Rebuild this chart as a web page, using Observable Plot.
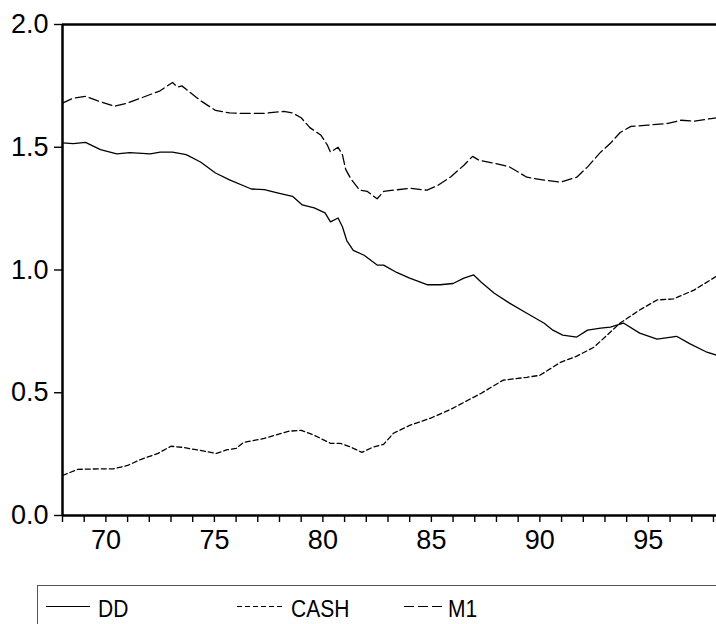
<!DOCTYPE html>
<html>
<head>
<meta charset="utf-8">
<script src="https://cdn.jsdelivr.net/npm/d3@7"></script>
<script src="https://cdn.jsdelivr.net/npm/@observablehq/plot@0.6"></script>
<style>
  html, body { margin: 0; padding: 0; background: #fff; }
  body { width: 716px; height: 624px; overflow: hidden; position: relative; font-family: "Liberation Sans", Arial, sans-serif; }
  #chart { position: absolute; left: 0; top: 0; }
  #chart svg text { font-family: "Liberation Sans", Arial, sans-serif; }
  #legend { position: absolute; left: 37px; top: 585px; width: 700px; height: 60px; border: 1px solid #555; box-sizing: border-box; }
  .item { position: absolute; top: 0; height: 40px; }
  .item svg { position: absolute; top: 0; left: 0; }
  .item span { position: absolute; top: 9px; font-size: 21px; color: #000; white-space: nowrap; transform: scaleY(1.15); transform-origin: left top; }
</style>
</head>
<body>
<div id="chart"></div>
<div id="legend"></div>
<script>
// ---- Data ----
const seriesNames = ["DD", "CASH", "M1"];

const m1Years = [68.0,68.5,69.06,69.6,70.4,71.0,71.6,72.5,73.07,73.3,73.5,74.36,75.05,75.7,76.2,77.3,78.2,78.6,79.0,79.4,79.9,80.2,80.35,80.7,80.9,81.05,81.3,81.7,82.05,82.5,82.8,83.25,84.0,84.8,85.3,85.9,86.5,86.9,87.2,87.9,88.6,89.4,90.2,90.95,91.7,92.2,92.8,93.25,93.7,94.2,94.96,95.9,96.5,97.1,97.9,98.14];
const m1Values = [1.68,1.70,1.707,1.69,1.667,1.68,1.70,1.73,1.764,1.745,1.75,1.69,1.65,1.64,1.638,1.638,1.646,1.64,1.62,1.58,1.55,1.51,1.48,1.50,1.47,1.41,1.37,1.325,1.32,1.29,1.32,1.325,1.333,1.325,1.345,1.38,1.427,1.463,1.447,1.435,1.42,1.378,1.366,1.358,1.378,1.42,1.48,1.516,1.56,1.585,1.59,1.597,1.61,1.606,1.617,1.62];

const ddYears = [68.0,68.5,69.06,69.75,70.5,71.1,72.05,72.5,73.07,73.7,74.36,75.05,75.7,76.7,77.3,77.9,78.6,79.05,79.6,80.1,80.35,80.7,80.9,81.1,81.4,81.9,82.5,82.8,83.4,84.0,84.8,85.4,86.0,86.5,86.95,87.3,87.9,88.6,89.4,90.2,90.6,91.05,91.7,92.2,92.8,93.25,93.85,94.6,95.4,96.3,96.9,97.7,98.14];
const ddValues = [1.518,1.515,1.52,1.49,1.473,1.478,1.473,1.48,1.48,1.47,1.44,1.395,1.367,1.33,1.327,1.314,1.30,1.265,1.253,1.233,1.196,1.212,1.176,1.12,1.08,1.06,1.02,1.02,0.99,0.967,0.94,0.94,0.945,0.967,0.98,0.95,0.905,0.865,0.824,0.783,0.755,0.735,0.727,0.755,0.763,0.767,0.784,0.743,0.718,0.73,0.70,0.665,0.653];

const cashYears = [68.0,68.7,69.75,70.35,71.0,71.6,72.4,73.0,73.5,74.36,75.1,75.6,76.0,76.35,77.3,78.4,79.0,79.6,80.35,80.8,81.3,81.8,82.3,82.8,83.25,84.0,84.95,85.9,86.5,87.3,88.3,89.4,90.0,90.95,91.7,92.5,93.1,93.7,94.6,95.4,96.15,97.1,98.0,98.14];
const cashValues = [0.163,0.188,0.19,0.19,0.204,0.228,0.253,0.282,0.278,0.265,0.253,0.268,0.273,0.298,0.314,0.343,0.347,0.327,0.294,0.294,0.278,0.257,0.278,0.29,0.335,0.367,0.396,0.433,0.461,0.498,0.551,0.563,0.571,0.624,0.649,0.686,0.735,0.784,0.837,0.878,0.882,0.918,0.967,0.975];

const xTicks = d3.range(68, 99);            // a tick each year
const xLabelled = [70, 75, 80, 85, 90, 95];  // labelled years
const yTicks = [0, 0.5, 1.0, 1.5, 2.0];

// ---- Build tables ----
const toRows = (ys, vs, name) => ys.map((y, i) => ({year: y, value: vs[i], series: name}));
const dd = toRows(ddYears, ddValues, "DD");
const cash = toRows(cashYears, cashValues, "CASH");
const m1 = toRows(m1Years, m1Values, "M1");

const styles = {
  DD:   {dash: null},
  CASH: {dash: "5,3"},
  M1:   {dash: "10,4"}
};

const font = '"Liberation Sans", Arial, sans-serif';

const chart = Plot.plot({
  width: 716,
  height: 560,
  marginLeft: 62,
  marginRight: 0,
  marginTop: 24,
  marginBottom: 45,
  style: {fontFamily: font, background: "#fff", color: "#000", overflow: "visible"},
  x: {domain: [68, 98.14]},
  y: {domain: [0, 2]},
  marks: [
    Plot.axisX({
      ticks: xTicks, tickSize: 7, tickPadding: 7, fontSize: 27,
      tickFormat: d => xLabelled.includes(d) ? String(d) : "",
      label: null, strokeWidth: 1.4
    }),
    Plot.axisY({
      ticks: yTicks, tickSize: 8, tickPadding: 6, fontSize: 27,
      tickFormat: d3.format(".1f"), label: null, strokeWidth: 1.4
    }),
    Plot.lineY(dd, {x: "year", y: "value", stroke: "#000", strokeWidth: 1.3}),
    Plot.lineY(cash, {x: "year", y: "value", stroke: "#000", strokeWidth: 1.3, strokeDasharray: styles.CASH.dash}),
    Plot.lineY(m1, {x: "year", y: "value", stroke: "#000", strokeWidth: 1.3, strokeDasharray: styles.M1.dash}),
    Plot.ruleY([0], {stroke: "#000", strokeWidth: 2.5}),
    Plot.ruleY([2], {stroke: "#000", strokeWidth: 2.5}),
    Plot.ruleX([68], {stroke: "#000", strokeWidth: 2.5})
  ]
});
document.getElementById("chart").appendChild(chart);

// ---- Legend ----
const legendPos = {DD: {sx: 8, tx: 60}, CASH: {sx: 199, tx: 253}, M1: {sx: 366, tx: 410}};
const legendLen = {DD: 44, CASH: 46, M1: 40};
const legend = d3.select("#legend");
seriesNames.forEach(name => {
  const p = legendPos[name];
  const item = legend.append("div").attr("class", "item").style("left", p.sx + "px");
  const svg = item.append("svg").attr("width", legendLen[name] + 2).attr("height", 40);
  svg.append("line")
    .attr("x1", 0).attr("x2", legendLen[name])
    .attr("y1", 20.5).attr("y2", 20.5)
    .attr("stroke", "#000").attr("stroke-width", 1.2)
    .attr("stroke-dasharray", styles[name].dash);
  item.append("span").style("left", (p.tx - p.sx) + "px").text(name);
});
</script>
</body>
</html>
